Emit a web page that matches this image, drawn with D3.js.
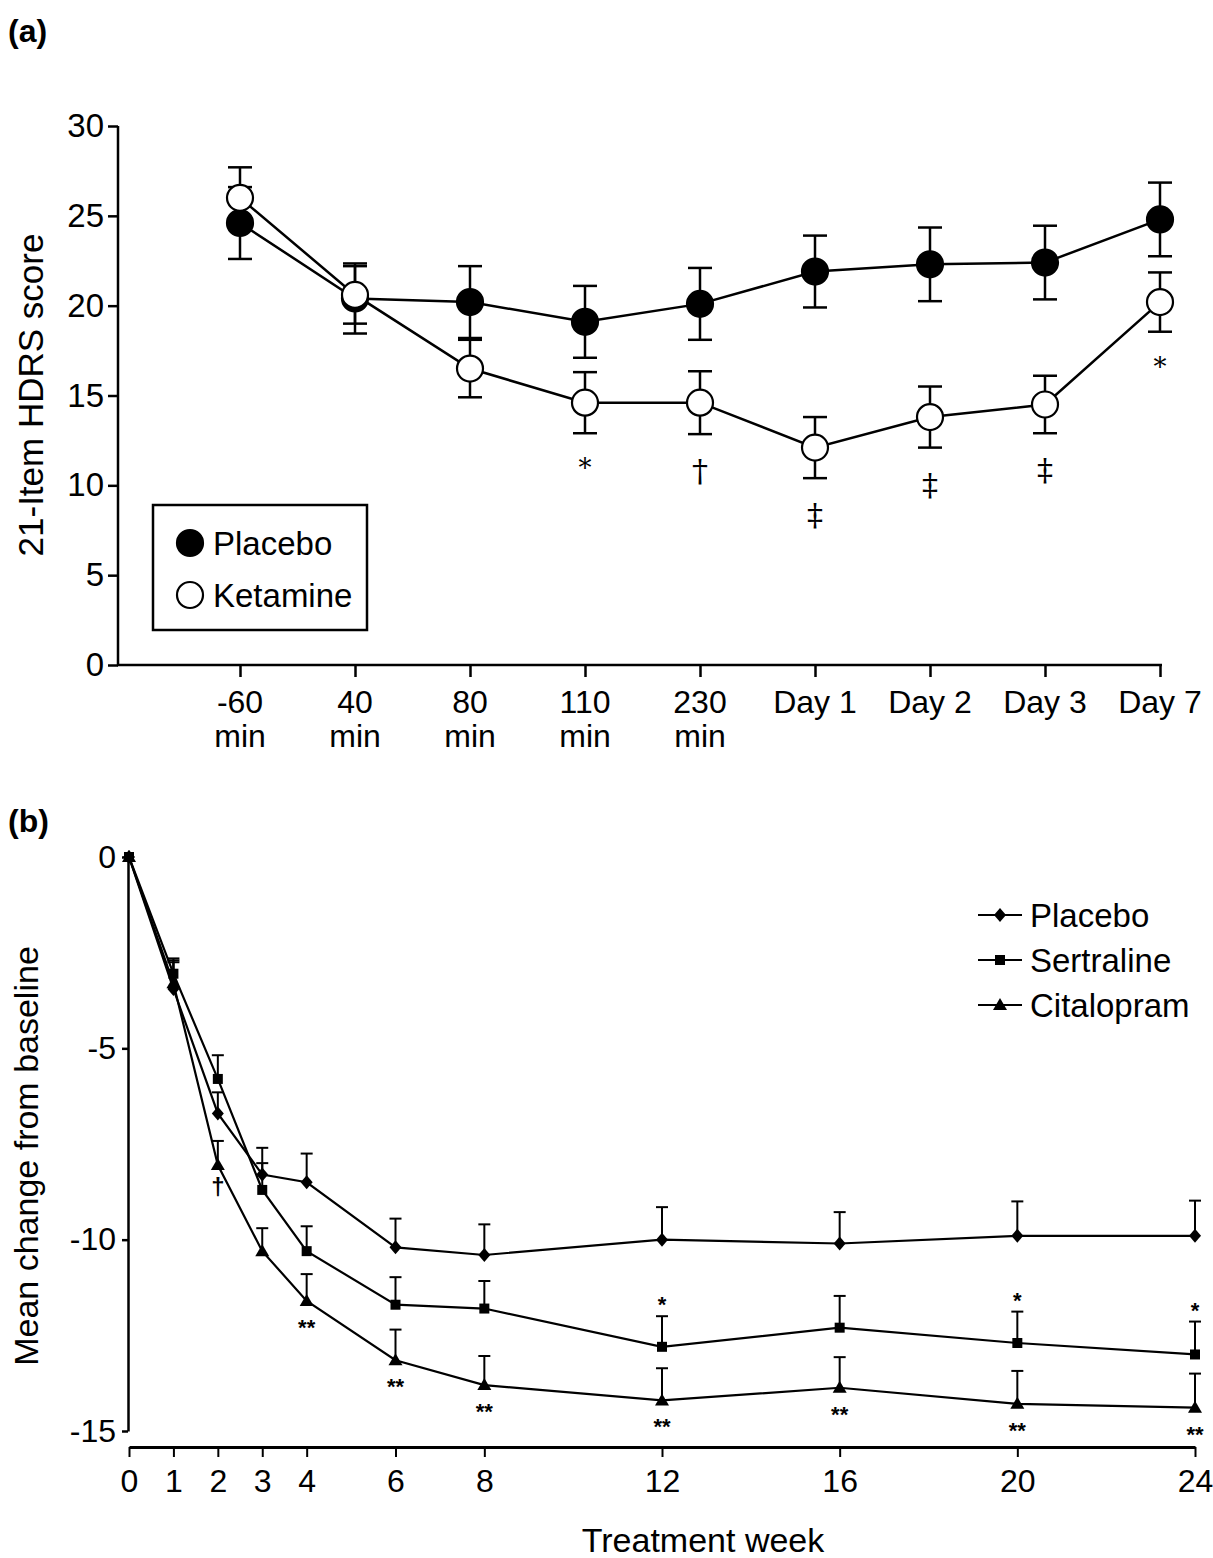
<!DOCTYPE html>
<html lang="en">
  <head>
    <meta charset="UTF-8" />
    <style>
      body { margin: 0; background: #fff; }
      svg { font-family: "Liberation Sans", Arial, sans-serif; }
      .axis path, .axis line { stroke: #000; fill: none; }
      .axis text { fill: #000; }
    </style>
    <script src="https://d3js.org/d3.v7.min.js"></script>
    <title>HDRS charts</title>
  </head>
  <body>
    <script>
      // ---- panel (a) data ----
      var catsA = ["-60 min", "40 min", "80 min", "110 min", "230 min", "Day 1", "Day 2", "Day 3", "Day 7"];
      var tickLinesA = [["-60", "min"], ["40", "min"], ["80", "min"], ["110", "min"], ["230", "min"], ["Day 1"], ["Day 2"], ["Day 3"], ["Day 7"]];
      var placeboA = [24.6, 20.4, 20.2, 19.1, 20.1, 21.9, 22.3, 22.4, 24.8];
      var placeboSeA = [2.0, 1.95, 2.0, 2.0, 2.0, 2.0, 2.05, 2.05, 2.05];
      var ketamineA = [26.0, 20.6, 16.5, 14.6, 14.6, 12.1, 13.8, 14.5, 20.2];
      var ketamineSeA = [1.7, 1.6, 1.6, 1.7, 1.75, 1.7, 1.7, 1.6, 1.65];
      var sigA = ["", "", "", "*", "\u2020", "\u2021", "\u2021", "\u2021", "*"];

      // ---- panel (b) data ----
      var weeksB = [0, 1, 2, 3, 4, 6, 8, 12, 16, 20, 24];
      var placeboB = [0, -3.45, -6.7, -8.3, -8.5, -10.2, -10.4, -10.0, -10.1, -9.9, -9.9];
      var placeboSeB = [0, 0.7, 0.55, 0.7, 0.75, 0.75, 0.8, 0.85, 0.82, 0.9, 0.92];
      var sertralineB = [0, -3.05, -5.8, -8.7, -10.3, -11.7, -11.8, -12.8, -12.3, -12.7, -13.0];
      var sertralineSeB = [0, 0.4, 0.62, 0.7, 0.65, 0.72, 0.72, 0.8, 0.83, 0.82, 0.86];
      var citalopramB = [0, -3.3, -8.05, -10.3, -11.6, -13.15, -13.8, -14.2, -13.87, -14.29, -14.39];
      var citalopramSeB = [0, 0.6, 0.63, 0.6, 0.7, 0.8, 0.76, 0.84, 0.8, 0.86, 0.89];
      var sigSertB = ["", "", "", "", "", "", "", "*", "", "*", "*"];
      var sigCitB = ["", "", "\u2020", "", "**", "**", "**", "**", "**", "**", "**"];

      var svg = d3.select("body").append("svg")
        .attr("width", 1213)
        .attr("height", 1558);

      // ================= panel (a) =================
      var gA = svg.append("g");
      var yA = d3.scaleLinear().domain([0, 30]).range([665, 126]);
      var xA = d3.scalePoint().domain(catsA).range([240, 1160]);

      gA.append("text").attr("x", 8).attr("y", 42)
        .style("font-size", "32px").style("font-weight", "bold").text("(a)");

      var yAxisA = gA.append("g").attr("class", "axis")
        .attr("transform", "translate(118,0)")
        .call(d3.axisLeft(yA).tickValues([0, 5, 10, 15, 20, 25, 30]).tickSize(10).tickSizeOuter(0).tickFormat(String));
      yAxisA.selectAll("path, line").style("stroke-width", 2.5);
      yAxisA.selectAll("text").style("font-size", "33px").attr("x", -14);
      yAxisA.select(".domain").remove();
      gA.append("line").attr("x1", 118).attr("x2", 118).attr("y1", yA(30)).attr("y2", yA(0) + 1)
        .style("stroke", "#000").style("stroke-width", 2.5);

      var xAxisA = gA.append("g").attr("class", "axis")
        .attr("transform", "translate(0,665)")
        .call(d3.axisBottom(xA).tickSize(12).tickFormat(""));
      xAxisA.select(".domain").remove();
      xAxisA.selectAll("line").style("stroke-width", 2.5);
      gA.append("line").attr("x1", 117).attr("x2", xA("Day 7") + 2).attr("y1", 665).attr("y2", 665)
        .style("stroke", "#000").style("stroke-width", 2.5);

      // two-line category labels, one text per line
      catsA.forEach(function (c, i) {
        tickLinesA[i].forEach(function (t, j) {
          gA.append("text")
            .attr("x", xA(c))
            .attr("y", 713 + j * 34)
            .attr("text-anchor", "middle")
            .style("font-size", "32px")
            .text(t);
        });
      });

      gA.append("text")
        .attr("transform", "translate(43,395) rotate(-90)")
        .attr("text-anchor", "middle")
        .style("font-size", "35px")
        .text("21-Item HDRS score");

      function drawSeriesA(vals, se, filled) {
        var line = d3.line().x(function (d, i) { return xA(catsA[i]); }).y(function (d) { return yA(d); });
        gA.append("path").datum(vals).attr("d", line)
          .style("fill", "none").style("stroke", "#000").style("stroke-width", 2.5);
        var eb = gA.append("g");
        vals.forEach(function (v, i) {
          var x = xA(catsA[i]);
          eb.append("line").attr("x1", x).attr("x2", x).attr("y1", yA(v + se[i])).attr("y2", yA(v - se[i]));
          eb.append("line").attr("x1", x - 12).attr("x2", x + 12).attr("y1", yA(v + se[i])).attr("y2", yA(v + se[i]));
          eb.append("line").attr("x1", x - 12).attr("x2", x + 12).attr("y1", yA(v - se[i])).attr("y2", yA(v - se[i]));
        });
        eb.selectAll("line").style("stroke", "#000").style("stroke-width", 2.5);
        gA.selectAll(null).data(vals).enter().append("circle")
          .attr("cx", function (d, i) { return xA(catsA[i]); })
          .attr("cy", function (d) { return yA(d); })
          .attr("r", 13)
          .style("fill", filled ? "#000" : "#fff")
          .style("stroke", "#000").style("stroke-width", 2.2);
      }
      drawSeriesA(placeboA, placeboSeA, true);
      drawSeriesA(ketamineA, ketamineSeA, false);

      gA.selectAll(".sigA").data(sigA).enter().append("text")
        .attr("x", function (d, i) { return xA(catsA[i]); })
        .attr("y", function (d, i) { return yA(ketamineA[i] - ketamineSeA[i]) + (d === "*" ? 44 : 48); })
        .attr("text-anchor", "middle")
        .style("font-family", "'DejaVu Serif', serif")
        .style("font-size", function (d) { return d === "*" ? "26px" : "32px"; })
        .text(function (d) { return d; });

      // legend (a)
      var legA = gA.append("g");
      legA.append("rect").attr("x", 153).attr("y", 505).attr("width", 214).attr("height", 125)
        .style("fill", "#fff").style("stroke", "#000").style("stroke-width", 2.5);
      [["Placebo", true, 543], ["Ketamine", false, 595]].forEach(function (r) {
        legA.append("circle").attr("cx", 190).attr("cy", r[2]).attr("r", 13)
          .style("fill", r[1] ? "#000" : "#fff").style("stroke", "#000").style("stroke-width", 2.2);
        legA.append("text").attr("x", 213).attr("y", r[2] + 12).style("font-size", "33px").text(r[0]);
      });

      // ================= panel (b) =================
      var gB = svg.append("g");
      var xB = d3.scaleLinear().domain([0, 24]).range([129, 1195]);
      var yB = d3.scaleLinear().domain([-15, 0]).range([1431, 857]);

      gB.append("text").attr("x", 8).attr("y", 832)
        .style("font-size", "32px").style("font-weight", "bold").text("(b)");

      var yAxisB = gB.append("g").attr("class", "axis")
        .attr("transform", "translate(128,0)")
        .call(d3.axisLeft(yB).tickValues([0, -5, -10, -15]).tickSize(6).tickSizeOuter(0).tickFormat(String));
      yAxisB.selectAll("path, line").style("stroke-width", 2.5);
      yAxisB.selectAll("text").style("font-size", "32px").attr("x", -12);

      var xAxisB = gB.append("g").attr("class", "axis")
        .attr("transform", "translate(0,1447)")
        .call(d3.axisBottom(xB).tickValues(weeksB).tickSize(10).tickSizeOuter(0).tickFormat(String));
      xAxisB.selectAll("path").style("stroke-width", 3);
      xAxisB.selectAll("line").style("stroke-width", 2);
      xAxisB.selectAll("text").style("font-size", "32px").attr("y", 22);

      gB.append("text").attr("x", 703).attr("y", 1552).attr("text-anchor", "middle")
        .style("font-size", "34px").text("Treatment week");
      gB.append("text")
        .attr("transform", "translate(38,1156) rotate(-90)")
        .attr("text-anchor", "middle")
        .style("font-size", "34px")
        .text("Mean change from baseline");

      var shapes = {
        diamond: "M0,-7L6,0L0,7L-6,0Z",
        square: "M-5,-5L5,-5L5,5L-5,5Z",
        triangle: "M0,-7L7,5L-7,5Z"
      };

      function drawSeriesB(vals, se, shape) {
        var line = d3.line().x(function (d, i) { return xB(weeksB[i]); }).y(function (d) { return yB(d); });
        gB.append("path").datum(vals).attr("d", line)
          .style("fill", "none").style("stroke", "#000").style("stroke-width", 2.2);
        var eb = gB.append("g");
        vals.forEach(function (v, i) {
          if (!se[i]) return;
          var x = xB(weeksB[i]);
          eb.append("line").attr("x1", x).attr("x2", x).attr("y1", yB(v)).attr("y2", yB(v + se[i]));
          eb.append("line").attr("x1", x - 6).attr("x2", x + 6).attr("y1", yB(v + se[i])).attr("y2", yB(v + se[i]));
        });
        eb.selectAll("line").style("stroke", "#000").style("stroke-width", 2);
        gB.selectAll(null).data(vals).enter().append("path")
          .attr("transform", function (d, i) { return "translate(" + xB(weeksB[i]) + "," + yB(d) + ")"; })
          .attr("d", shapes[shape])
          .style("fill", "#000");
      }
      drawSeriesB(placeboB, placeboSeB, "diamond");
      drawSeriesB(sertralineB, sertralineSeB, "square");
      drawSeriesB(citalopramB, citalopramSeB, "triangle");

      gB.selectAll(".sigS").data(sigSertB).enter().append("text")
        .attr("x", function (d, i) { return xB(weeksB[i]); })
        .attr("y", function (d, i) { return yB(sertralineB[i] + sertralineSeB[i]) - 4; })
        .attr("text-anchor", "middle")
        .style("font-size", "22px").style("font-weight", "bold")
        .text(function (d) { return d; });
      gB.selectAll(".sigC").data(sigCitB).enter().append("text")
        .attr("x", function (d, i) { return xB(weeksB[i]); })
        .attr("y", function (d, i) { return yB(citalopramB[i]) + (d === "**" ? 34 : 30); })
        .attr("text-anchor", "middle")
        .style("font-size", function (d) { return d === "**" ? "22px" : "24px"; })
        .style("font-weight", "bold")
        .text(function (d) { return d; });

      // legend (b)
      var legB = gB.append("g");
      [["Placebo", "diamond", 915], ["Sertraline", "square", 960], ["Citalopram", "triangle", 1005]].forEach(function (r) {
        legB.append("line").attr("x1", 978).attr("x2", 1022).attr("y1", r[2]).attr("y2", r[2])
          .style("stroke", "#000").style("stroke-width", 2);
        legB.append("path").attr("transform", "translate(1000," + r[2] + ")").attr("d", shapes[r[1]]).style("fill", "#000");
        legB.append("text").attr("x", 1030).attr("y", r[2] + 12).style("font-size", "33px").text(r[0]);
      });
    </script>
  </body>
</html>
